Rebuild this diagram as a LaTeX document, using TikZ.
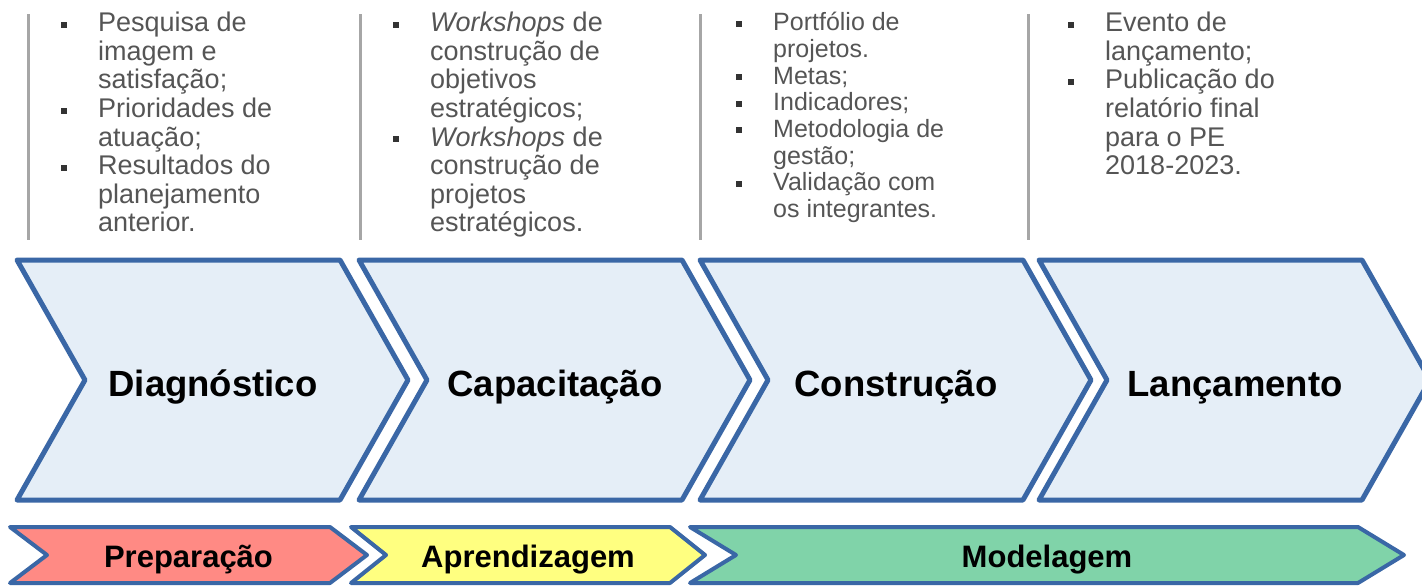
\documentclass[tikz,border=0pt]{standalone}
\usepackage{fontspec}
\setmainfont{Liberation Sans}

\definecolor{chevblue}{HTML}{3A67A6}
\definecolor{chevfill}{HTML}{E5EEF7}
\definecolor{prepred}{HTML}{FF8A84}
\definecolor{aprendyellow}{HTML}{FFFF80}
\definecolor{modgreen}{HTML}{80D3A9}
\definecolor{notegray}{HTML}{555555}
\definecolor{rulegray}{HTML}{A6A6A6}

\tikzset{
  bigchev/.style={draw=chevblue, line width=5pt, fill=chevfill, line join=round},
  phasebar/.style={draw=chevblue, line width=4pt, line join=round},
  steplabel/.style={anchor=base, font=\fontsize{36.5}{40}\selectfont\bfseries},
  phaselabel/.style={anchor=base, font=\fontsize{31}{34}\selectfont\bfseries},
  notes/.style={anchor=north west, inner sep=0pt, align=left, text=notegray,
    font=\fontsize{27}{28.6}\selectfont},
}
\newcommand{\blt}{\makebox[37pt][l]{\color{black!80}\rule[4pt]{6pt}{6pt}}}
\newcommand{\ind}{\hspace*{37pt}}

\begin{document}
\begin{tikzpicture}[x=1pt, y=-1pt]
        \useasboundingbox (0,0) rectangle (1422,587);

        % Separators of the notes
        \foreach \x in {28, 360, 700, 1028} {
            \draw[rulegray, line width=3pt] (\x,14) -- (\x,240);
        }

        % Notes above the steps
        \node[notes] (diagnotes) at (61,12) {\blt Pesquisa de\\ \ind imagem e\\ \ind satisfação;\\
            \blt Prioridades de\\ \ind atuação;\\ \blt Resultados do\\ \ind planejamento\\ \ind anterior.};
        \node[notes] (capanotes) at (393,12) {\blt \textit{Workshops} de\\ \ind construção de\\ \ind objetivos\\
            \ind estratégicos;\\ \blt \textit{Workshops} de\\ \ind construção de\\ \ind projetos\\ \ind estratégicos.};
        \node[notes, font=\fontsize{25}{26.7}\selectfont] (consnotes) at (736,12) {\blt Portfólio de\\ \ind projetos.\\
            \blt Metas;\\ \blt Indicadores;\\ \blt Metodologia de\\ \ind gestão;\\ \blt Validação com\\ \ind os integrantes.};
        \node[notes] (lancnotes) at (1068,12) {\blt Evento de\\ \ind lançamento;\\ \blt Publicação do\\
            \ind relatório final\\ \ind para o PE\\ \ind 2018-2023.};

        % Steps
        \foreach \x/\nm/\lbl in {17/diag/Diagnóstico, 359/capa/Capacitação, 700/cons/Construção, 1039/lanc/Lançamento} {
            \draw[bigchev] (\x,260) -- ++(323,0) -- ++(68,120) -- ++(-68,120) -- ++(-323,0) -- ++(68,-120) -- cycle;
            \node[steplabel] (\nm) at (\x+196,396) {\lbl};
        }

        % Phases
        \foreach \x/\w/\d/\c/\nm/\lbl in {10/320/37/prepred/prep/Preparação, 351/319/35/aprendyellow/aprend/Aprendizagem,
                690/668/46/modgreen/model/Modelagem} {
            \draw[phasebar, fill=\c] (\x,527) -- ++(\w,0) -- ++(\d,28) -- ++(-\d,28) -- ++(-\w,0) -- ++(\d,-28) -- cycle;
            \node[phaselabel] (\nm) at (\x+\w/2+\d/2,567) {\lbl};
        }
    \end{tikzpicture}
\end{document}
